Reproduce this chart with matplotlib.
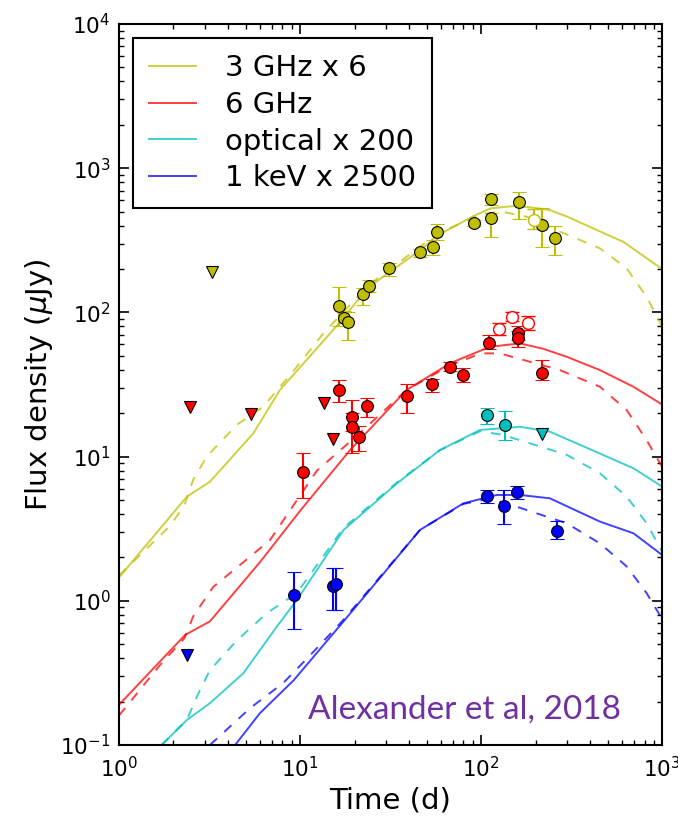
import matplotlib
matplotlib.use("Agg")
import numpy as np
import matplotlib.pyplot as plt

# detections : time (d), flux (uJy), bottom / top of the error bar
t_3 = [16.5, 17.4, 18.3, 22.4, 24.2, 31.2, 46, 54, 57, 92, 113.6, 113.6, 161.6, 216, 256]
f_3 = [111, 91, 86, 134, 152, 202, 261, 286, 363, 417, 449, 608, 580, 404, 326]
lo_3 = [80, 80, 64, 112, 139, 179, 243, 251, 316, 395, 332, 555, 446, 283, 251]
hi_3 = [151, 102, 100, 147, 167, 222, 277, 316, 413, 440, 490, 667, 688, 526, 400]
t_3open = [197]
f_3open = [437]
lo_3open = [380]
hi_3open = [520]

t_6 = [10.4, 16.5, 19.3, 19.3, 21.3, 23.4, 38.8, 53.4, 67.4, 79.8, 111, 160.7, 160.7, 216]
f_6 = [7.86, 29, 18.9, 16.1, 13.7, 22.4, 26.4, 31.7, 42, 36.8, 61.6, 72, 66, 38]
lo_6 = [5.2, 24, 15, 10.6, 10.9, 18.8, 20, 28, 39, 33, 56, 64, 58, 34]
hi_6 = [10.6, 34, 24.7, 20, 16.2, 25.3, 32, 34.7, 45, 40.9, 69.8, 80, 74, 47]
t_6open = [125, 148, 181]
f_6open = [77, 93, 85]
lo_6open = [70, 87, 76]
hi_6open = [85, 100, 95]

t_opt = [108, 136]
f_opt = [19.4, 16.6]
lo_opt = [16.8, 13.1]
hi_opt = [21.9, 20.7]

t_x = [9.27, 15.3, 15.9, 108, 134, 157, 262]
f_x = [1.10, 1.27, 1.31, 5.36, 4.54, 5.65, 3.05]
lo_x = [0.635, 0.87, 0.87, 4.8, 3.4, 5.1, 2.7]
hi_x = [1.59, 1.69, 1.69, 5.9, 5.9, 6.3, 3.6]

# upper limits
ul_t3, ul_f3 = [3.26], [190]
ul_t6, ul_f6 = [2.47, 5.36, 13.5, 15.3], [22, 19.6, 23.4, 13.2]
ul_topt, ul_fopt = [216], [14.4]
ul_tx, ul_fx = [2.37], [0.42]

# model curves (solid and dashed)
m3_t = [1.0, 2.37, 3.18, 5.52, 7.75, 15.3, 24, 46, 57, 92, 113, 151, 190, 240, 300, 436, 611, 1000]
m3_f = [1.45, 5.27, 6.7, 14.5, 29, 76, 150, 270, 340, 470, 527, 547, 535, 513, 461, 373, 309, 200]
d3_t = [1.0, 1.91, 2.3, 2.57, 3.05, 4.47, 6.27, 9.6, 13.5, 24, 57, 100, 130, 179, 273, 454, 638, 822, 1000]
d3_f = [1.5, 3.3, 4.6, 6.9, 10, 16.6, 22.2, 42, 72, 155, 350, 480, 500, 461, 363, 278, 202, 128, 80]

m6_t = [1.0, 2.32, 3.18, 6.0, 10, 18.9, 38.8, 67.4, 112, 164, 220, 297, 454, 695, 1000]
m6_f = [0.19, 0.58, 0.72, 1.85, 4.2, 11.1, 29, 44.4, 57.8, 61, 56, 49.3, 39.8, 30.5, 23]
d6_t = [1.0, 1.69, 2.3, 2.57, 3.32, 4.86, 6.83, 12.4, 20, 38.8, 67.4, 100, 127, 273, 454, 638, 822, 1000]
d6_f = [0.16, 0.36, 0.55, 0.78, 1.25, 1.85, 2.64, 8.0, 13.5, 29, 43, 52, 52, 39.8, 30.5, 21, 13, 8.5]

mo_t = [1.72, 2.37, 3.18, 4.86, 7.43, 9.6, 17.4, 34.2, 59.3, 98.7, 164, 240, 454, 695, 1000]
mo_f = [0.1, 0.149, 0.195, 0.314, 0.66, 1.01, 3.1, 6.5, 11.1, 15.3, 16.1, 14.9, 10.5, 8.3, 6.2]
do_t = [1.72, 2.37, 2.69, 3.18, 4.47, 6.55, 9.6, 17.4, 34.2, 59.3, 98.7, 130, 164, 297, 454, 638, 822, 1000]
do_f = [0.1, 0.149, 0.216, 0.33, 0.53, 0.82, 1.13, 3.2, 6.6, 11.1, 15.0, 14.2, 13, 10.3, 7.66, 5.27, 3.45, 2.2]

mx_t = [4.38, 6.0, 9.2, 17.4, 46, 79.8, 122, 164, 240, 454, 695, 1000]
mx_f = [0.1, 0.166, 0.28, 0.72, 3.1, 4.74, 5.42, 5.42, 5.14, 3.54, 2.94, 2.08]
dx_t = [3.18, 5.3, 8.1, 11.4, 17.4, 46, 80, 110, 157, 297, 454, 638, 822, 1000]
dx_f = [0.1, 0.18, 0.27, 0.42, 0.74, 3.1, 4.7, 5.1, 4.5, 3.45, 2.5, 1.73, 1.13, 0.75]

labels = ["3 GHz x 6", "6 GHz", "optical x 200", "1 keV x 2500"]
colors = [(0.75, 0.75, 0), (1, 0, 0), (0, 0.75, 0.75), (0, 0, 1)]

plt.rcParams["xtick.direction"] = "in"
plt.rcParams["ytick.direction"] = "in"
plt.rcParams["xtick.top"] = True
plt.rcParams["ytick.right"] = True
plt.rcParams["xtick.major.size"] = 7
plt.rcParams["ytick.major.size"] = 7
plt.rcParams["xtick.minor.size"] = 3.5
plt.rcParams["ytick.minor.size"] = 3.5
plt.rcParams["xtick.major.pad"] = 8
plt.rcParams["ytick.major.pad"] = 6

fig = plt.figure(figsize=(6.78, 8.22), dpi=100)
ax = fig.add_axes([0.1755, 0.0937, 0.801, 0.877])

models = [(m3_t, m3_f, d3_t, d3_f), (m6_t, m6_f, d6_t, d6_f),
          (mo_t, mo_f, do_t, do_f), (mx_t, mx_f, dx_t, dx_f)]
for (mt, mf, dt, df), c, lab in zip(models, colors, labels):
    ax.plot(mt, mf, "-", color=c, lw=1.4, alpha=0.75, label=lab)
    ax.plot(dt, df, "--", color=c, lw=1.4, alpha=0.75, dashes=(5, 5))

data = [(t_3, f_3, lo_3, hi_3), (t_6, f_6, lo_6, hi_6),
        (t_opt, f_opt, lo_opt, hi_opt), (t_x, f_x, lo_x, hi_x)]
for (t, f, lo, hi), c in zip(data, colors):
    f = np.array(f)
    err = [f - np.array(lo), np.array(hi) - f]
    ax.errorbar(t, f, yerr=err, fmt="o", color=c, mfc=c, mec="k", mew=0.8,
                ms=8.5, ecolor=c, elinewidth=1.5, capsize=5, capthick=1.5, zorder=5)

opens = [(t_3open, f_3open, lo_3open, hi_3open, colors[0]),
         (t_6open, f_6open, lo_6open, hi_6open, colors[1])]
for t, f, lo, hi, c in opens:
    f = np.array(f)
    err = [f - np.array(lo), np.array(hi) - f]
    ax.errorbar(t, f, yerr=err, fmt="o", color=c, mfc="white", mec=c, mew=1.0,
                ms=8.5, ecolor=c, elinewidth=1.5, capsize=5, capthick=1.5, zorder=5)

limits = [(ul_t3, ul_f3), (ul_t6, ul_f6), (ul_topt, ul_fopt), (ul_tx, ul_fx)]
for (t, f), c in zip(limits, colors):
    ax.plot(t, f, "v", color=c, mec="k", mew=0.8, ms=9, ls="none", zorder=5)

ax.set_xscale("log")
ax.set_yscale("log")
ax.set_xlim(1, 1000)
ax.set_ylim(0.1, 1e4)
ax.tick_params(labelsize=15.5, width=1.2)
ax.tick_params(which="minor", width=1.0)
for s in ax.spines.values():
    s.set_linewidth(1.5)

ax.set_xlabel("Time (d)", fontsize=21, labelpad=4)
ax.set_ylabel(r"Flux density ($\mu$Jy)", fontsize=21, labelpad=4)

leg = ax.legend(loc="upper left", fontsize=21, frameon=True, fancybox=False,
                edgecolor="k", framealpha=1, handlelength=1.6, handletextpad=1.0,
                labelspacing=0.3, borderpad=0.55, borderaxespad=0.48)
leg.get_frame().set_linewidth(1.5)

ax.text(0.348, 0.037, "Alexander et al, 2018", transform=ax.transAxes,
        fontsize=24, color="#7030A0", family="Lato", ha="left", va="baseline")

fig.savefig("out.png", dpi=100, facecolor="white")
